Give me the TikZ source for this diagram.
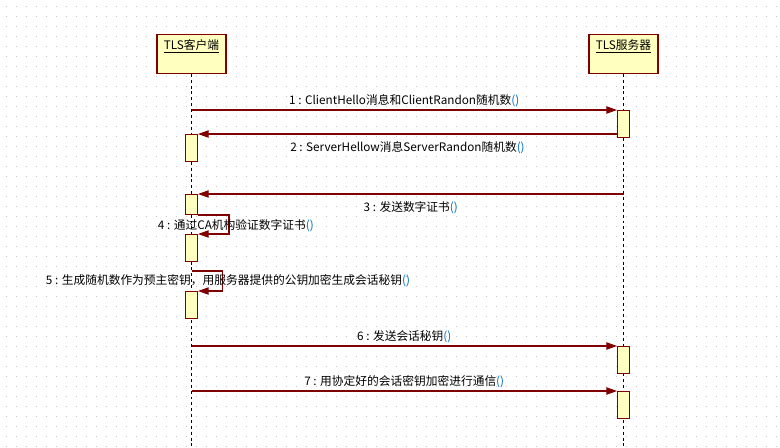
\documentclass[tikz,border=0pt]{standalone}
\usepackage{fontspec}
\setmainfont{Noto Sans CJK SC}
\usetikzlibrary{arrows.meta, positioning}
\definecolor{lifered}{HTML}{800000}
\definecolor{actyellow}{HTML}{FFFFC0}
\definecolor{callblue}{HTML}{0070C0}
\definecolor{griddot}{HTML}{C8C8C8}

\begin{document}
\begin{tikzpicture}[x=0.75pt, y=-0.75pt,
  actor/.style={rectangle, draw=lifered, fill=actyellow, line width=0.9pt,
                minimum width=51.75pt, inner sep=0pt, text height=11pt, text depth=18pt,
                anchor=north, font=\fontsize{8.8}{10}\selectfont},
  act/.style={rectangle, draw=lifered, fill=actyellow, line width=0.75pt,
              minimum width=9pt, minimum height=20pt, inner sep=0pt, anchor=north},
  life/.style={dash pattern=on 2.2pt off 2.2pt, line width=0.6pt},
  msg/.style={-{Triangle[length=8pt, width=5.5pt]}, draw=lifered, line width=0.8pt},
  lbl/.style={font=\fontsize{8.8}{10}\selectfont, inner sep=2pt}
]
\useasboundingbox (0,0) rectangle (780,447);
\fill[white] (0,0) rectangle (780,447);
% dotted background grid
\foreach \gy in {6,16,...,446}
  \draw[griddot, line width=0.75pt, dash pattern=on 0.75pt off 6.75pt] (5.5,\gy) -- (780,\gy);

% participants
\node[actor] (client) at (191.5,34) {\underline{TLS客户端}};
\node[actor] (server) at (623.5,34) {\underline{TLS服务器}};
\coordinate (cend) at (191.5,447);
\coordinate (send) at (623.5,447);
\draw[life] (client.south) -- (cend);
\draw[life] (server.south) -- (send);

% activations
\node[act] (s1) at (623.5,110) {};
\node[act] (c1) at (191.5,134) {};
\node[act, minimum height=15pt] (c2) at (191.5,194) {};
\node[act] (c3) at (191.5,234) {};
\node[act] (c4) at (191.5,291) {};
\node[act] (s2) at (623.5,346) {};
\node[act] (s3) at (623.5,391) {};

% message start points on the lifelines
\coordinate (m1) at (191.5,110);
\coordinate (m3) at (623.5,194);
\coordinate (m5) at (191.5,271);
\coordinate (m6) at (191.5,346);
\coordinate (m7) at (191.5,391);

% messages
\draw[msg] (m1) -- node[lbl, above] {1 : ClientHello消息和ClientRandon随机数\textcolor{callblue}{()}} (s1.north west);
\draw[msg] (s1.west |- c1.north) -- node[lbl, below=3pt] {2 : ServerHellow消息ServerRandon随机数\textcolor{callblue}{()}} (c1.north east);
\draw[msg] (m3) -- node[lbl, below=3pt] {3 : 发送数字证书\textcolor{callblue}{()}} (c2.north east);
\draw[msg] (c2.south east) -- ++(31,0) |- (c3.north east);
\node[lbl, anchor=west] (l4) at (155,226) {4 : 通过CA机构验证数字证书\textcolor{callblue}{()}};
\draw[msg] (m5) -- ++(31,0) |- (c4.north east);
\node[lbl, anchor=west] (l5) at (43,281) {5 : 生成随机数作为预主密钥，用服务器提供的公钥加密生成会话秘钥\textcolor{callblue}{()}};
\draw[msg] (m6) -- node[lbl, above] {6 : 发送会话秘钥\textcolor{callblue}{()}} (s2.north west);
\draw[msg] (m7) -- node[lbl, above] {7 : 用协定好的会话密钥加密进行通信\textcolor{callblue}{()}} (s3.north west);
\end{tikzpicture}
\end{document}
